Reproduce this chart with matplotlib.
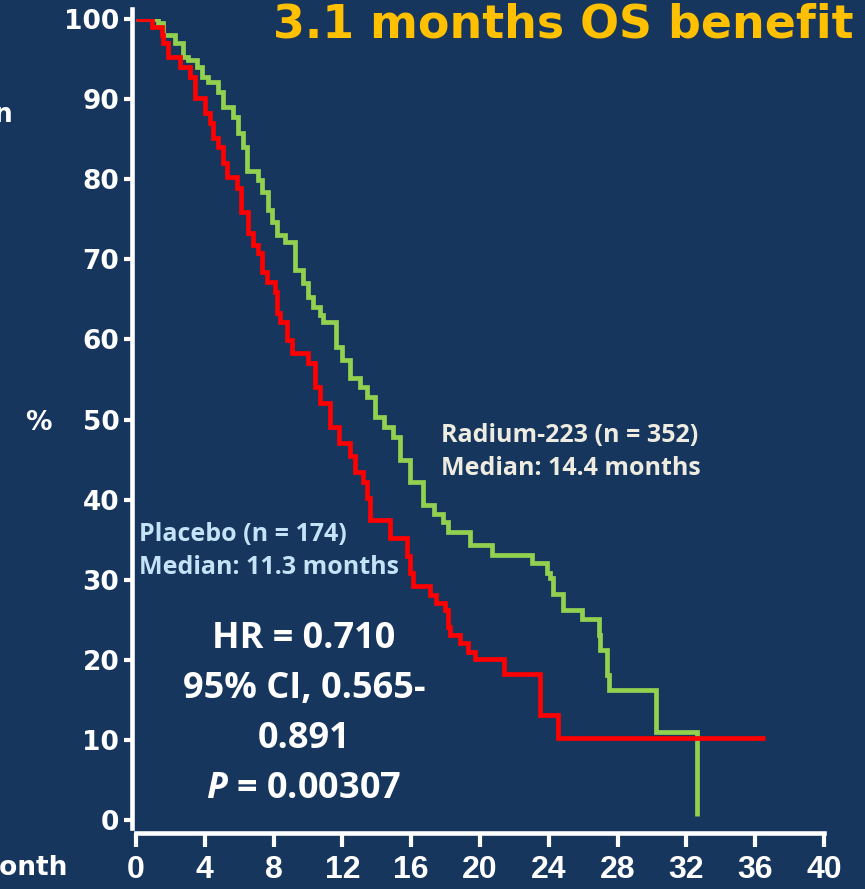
import matplotlib.pyplot as plt

# Radium-223 arm: event times (months) and survival after each step (%)
rad_t = [0, 1.28, 1.57, 2.27, 2.73, 3.02, 3.55, 3.84, 4.19, 4.77,
         5.06, 5.64, 5.93, 6.2, 6.45, 7.09, 7.33, 7.67, 7.91, 8.20, 8.66,
         9.24, 9.71, 10.0, 10.29, 10.70, 10.87, 11.63, 11.98, 12.44, 13.02,
         13.43, 13.90, 14.4, 14.94, 15.35, 15.93, 16.69, 17.3, 17.85, 18.14,
         19.42, 20.70, 23.02, 23.90, 24.07, 24.24, 24.83, 25.93, 26.92, 26.98,
         27.38, 27.50, 30.23, 32.62]
rad_s = [100, 99.5, 98.0, 97.0, 95.3, 94.9, 94.0, 92.8, 92.1, 90.9,
         89.0, 87.8, 85.8, 84.0, 81.0, 79.9, 78.4, 76.2, 74.7, 73.0, 72.2,
         68.7, 67.0, 65.3, 64.0, 63.0, 62.2, 59.1, 57.4, 55.2, 54.1,
         52.8, 50.3, 49.1, 47.8, 45.0, 42.2, 39.3, 38.2, 37.2, 36.0,
         34.3, 33.1, 32.1, 30.8, 30.2, 28.2, 26.2, 25.1, 23.1, 21.2,
         18.1, 16.2, 11.0, 0.5]
rad_end = 32.62

# Placebo arm
plc_t = [0, 0.93, 1.51, 1.57, 1.86, 2.56, 3.14, 3.43, 4.01, 4.30,
         4.48, 4.77, 5.06, 5.29, 5.87, 6.10, 6.51, 6.80, 7.09, 7.33,
         7.62, 8.08, 8.20, 8.37, 8.78, 9.07, 10.0, 10.41, 10.70, 11.3,
         11.80, 12.44, 12.73, 13.20, 13.45, 13.60, 14.77, 15.76, 15.93, 16.10,
         17.09, 17.44, 17.97, 18.14, 18.26, 18.84, 19.30, 19.71, 21.40, 23.49,
         24.53]
plc_s = [100, 99.0, 98.0, 97.0, 95.3, 94.0, 92.8, 90.1, 88.3, 87.0,
         85.1, 84.0, 82.0, 80.3, 78.9, 75.9, 73.3, 71.8, 70.8, 68.4,
         67.2, 65.9, 63.3, 62.2, 59.9, 58.3, 57.1, 54.1, 52.1, 49.1,
         47.1, 45.4, 43.5, 42.2, 40.2, 37.5, 35.2, 33.0, 30.8, 29.2,
         28.1, 27.1, 26.2, 24.1, 23.1, 22.1, 21.0, 20.1, 18.2, 13.1,
         10.2]
plc_end = 36.57

x_ticks = list(range(0, 41, 4))
y_ticks = list(range(0, 101, 10))

bg = '#17365D'
W, H = 865, 889

plt.rcParams['mathtext.fontset'] = 'custom'
plt.rcParams['mathtext.bfit'] = 'Open Sans:italic:bold'
plt.rcParams['mathtext.bf'] = 'Open Sans:bold'

fig = plt.figure(figsize=(W / 100, H / 100), dpi=100, facecolor=bg)
ax = fig.add_axes([136 / W, 69 / H, 688 / W, 801 / H])
ax.set_facecolor(bg)

ax.step(rad_t + [rad_end], rad_s + [rad_s[-1]], where='post',
        color='#92D050', lw=3.4, solid_capstyle='butt', solid_joinstyle='miter')
ax.step(plc_t + [plc_end], plc_s + [plc_s[-1]], where='post',
        color='#FF0000', lw=3.4, solid_capstyle='butt', solid_joinstyle='miter')

ax.set_xlim(0, 40)
ax.set_ylim(0, 100)
ax.set_xticks(x_ticks)
ax.set_yticks(y_ticks)

for side in ['top', 'right']:
    ax.spines[side].set_visible(False)
for side in ['left', 'bottom']:
    ax.spines[side].set_color('white')
    ax.spines[side].set_linewidth(3.3)
ax.spines['bottom'].set_position(('outward', 9))
ax.spines['left'].set_position(('outward', 3))
ax.spines['left'].set_bounds(-1, 101.2)

ax.tick_params(axis='y', colors='white', length=6, width=3, pad=3)
ax.tick_params(axis='x', colors='white', length=10, width=3, pad=6)
for lab in ax.get_yticklabels():
    lab.set_fontfamily('DejaVu Sans')
    lab.set_fontweight('bold')
    lab.set_fontsize(19)
for lab in ax.get_xticklabels():
    lab.set_fontfamily('Liberation Sans')
    lab.set_fontweight('bold')
    lab.set_fontsize(23)


def px(x, y):
    return x / W, 1 - y / H


fig.text(*px(273, 37), '3.1 months OS benefit', color='#FFC000',
         fontsize=33, fontweight='bold', family='DejaVu Sans', va='baseline', ha='left')

fig.text(*px(12, 115), 'n', color='white', fontsize=19, fontweight='bold',
         ha='right', va='center')
fig.text(*px(38, 423), '%', color='white', fontsize=19, fontweight='bold',
         ha='center', va='center')
fig.text(*px(68, 868), 'Month', color='white', fontsize=19, fontweight='bold',
         ha='right', va='center')

fig.text(*px(441, 452), 'Radium-223 (n = 352)\nMedian: 14.4 months',
         color='#EEECE1', fontsize=18, fontweight='bold', family='Open Sans',
         ha='left', va='center', linespacing=1.38)
fig.text(*px(139, 551), 'Placebo (n = 174)\nMedian: 11.3 months',
         color='#C5E3F7', fontsize=18, fontweight='bold', family='Open Sans',
         ha='left', va='center', linespacing=1.38)

fig.text(*px(304, 714),
         'HR = 0.710\n95% CI, 0.565-\n0.891\n$\\mathbfit{P}$ = 0.00307',
         color='white', fontsize=26, fontweight='bold', family='Open Sans',
         ha='center', va='center', multialignment='center', linespacing=1.52)

fig.savefig('out.png', dpi=100, facecolor=bg)
